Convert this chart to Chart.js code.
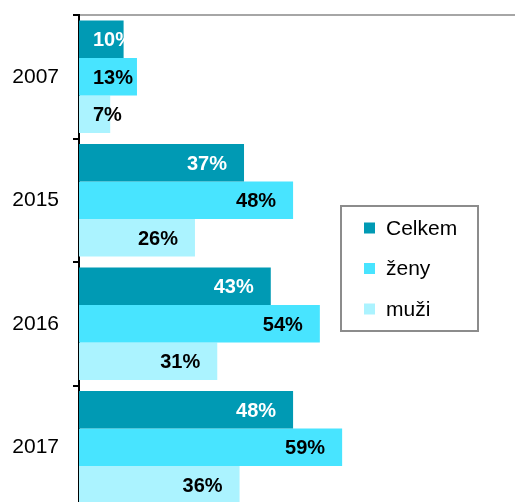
<!DOCTYPE html>
<html>
<head>
<meta charset="utf-8">
<script src="https://cdn.jsdelivr.net/npm/chart.js@4/dist/chart.umd.min.js"></script>
<style>
html,body{margin:0;padding:0;overflow:hidden;background:#fff;}
#wrap{position:absolute;left:0;top:0;width:530px;height:512px;}
</style>
</head>
<body>
<div id="wrap"><canvas id="c" width="530" height="512"></canvas></div>
<script>
const categories = ['2007', '2015', '2016', '2017'];
const seriesNames = ['Celkem', 'ženy', 'muži'];
const celkem = [10, 37, 43, 48];
const zeny = [13, 48, 54, 59];
const muzi = [7, 26, 31, 36];
const seriesColors = ['#009ab4', '#48e4ff', '#abf3ff'];
const labelColors = ['#ffffff', '#000000', '#000000'];

const FONT = "'Liberation Sans', Arial, sans-serif";

const barLabels = {
  id: 'barLabels',
  afterDatasetsDraw(chart) {
    const ctx = chart.ctx;
    ctx.save();
    ctx.font = 'bold 20px ' + FONT;
    ctx.textBaseline = 'middle';
    ctx.textAlign = 'left';
    chart.data.datasets.forEach((ds, di) => {
      const meta = chart.getDatasetMeta(di);
      meta.data.forEach((el, i) => {
        const txt = ds.data[i] + '%';
        const w = ctx.measureText(txt).width;
        let start = el.x - 17 - w;
        if (start < el.base + 14) start = el.base + 14;
        ctx.fillStyle = labelColors[di];
        ctx.fillText(txt, start, el.y + 1.5);
      });
    });
    ctx.restore();
  }
};

const boxLegend = {
  id: 'boxLegend',
  afterDraw(chart) {
    const ctx = chart.ctx;
    ctx.save();
    ctx.strokeStyle = '#8c8c8c';
    ctx.lineWidth = 2;
    ctx.strokeRect(341, 206, 137, 125);
    ctx.font = '21px ' + FONT;
    ctx.textBaseline = 'middle';
    ctx.textAlign = 'left';
    const rows = [228, 268.5, 309];
    chart.data.datasets.forEach((ds, di) => {
      const y = rows[di];
      ctx.fillStyle = ds.backgroundColor;
      ctx.fillRect(364, y - 5.5, 11, 11);
      ctx.fillStyle = '#000';
      ctx.fillText(ds.label, 386, y + 1);
    });
    ctx.restore();
  }
};

new Chart(document.getElementById('c'), {
  type: 'bar',
  data: {
    labels: categories,
    datasets: [
      { label: seriesNames[0], data: celkem, backgroundColor: seriesColors[0] },
      { label: seriesNames[1], data: zeny, backgroundColor: seriesColors[1] },
      { label: seriesNames[2], data: muzi, backgroundColor: seriesColors[2] }
    ]
  },
  options: {
    indexAxis: 'y',
    responsive: false,
    animation: false,
    devicePixelRatio: 1,
    layout: { padding: { left: 12, top: 15, right: 5, bottom: 3 } },
    datasets: { bar: { categoryPercentage: 0.911, barPercentage: 1, borderWidth: 0 } },
    plugins: { legend: { display: false }, tooltip: { enabled: false }, title: { display: false } },
    scales: {
      x: {
        position: 'top',
        min: 0, max: 100,
        ticks: { display: false },
        grid: { display: false, drawTicks: false },
        border: { display: true, color: '#a6a6a6', width: 2 },
        afterFit(s) { s.height = 0; s.paddingLeft = 0; s.paddingRight = 0; }
      },
      y: {
        ticks: { color: '#000', font: { family: FONT, size: 21 }, padding: 14 },
        grid: { offset: true, drawOnChartArea: false, drawTicks: true, tickLength: 6, color: '#000', lineWidth: 2 },
        border: { display: true, color: '#000', width: 2 },
        afterFit(s) { s.width = 67; s.paddingTop = 0; s.paddingBottom = 0; }
      }
    }
  },
  plugins: [barLabels, boxLegend]
});
</script>
</body>
</html>
